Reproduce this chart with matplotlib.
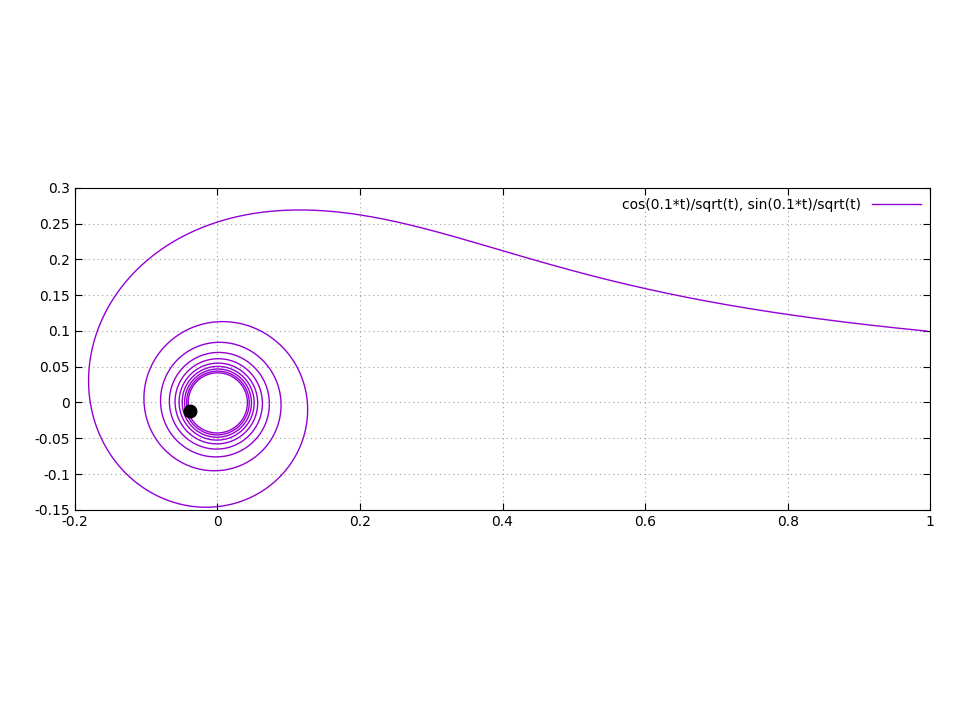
import numpy as np
import matplotlib.pyplot as plt

# parametric curve exactly as given in the chart's legend
T_START = 1.0
T_END = 600.0
N_SAMPLES = 20000
X_TICKS = [-0.2, 0, 0.2, 0.4, 0.6, 0.8, 1]
Y_TICKS = [-0.15, -0.1, -0.05, 0, 0.05, 0.1, 0.15, 0.2, 0.25, 0.3]

t = np.linspace(T_START, T_END, N_SAMPLES)
x = np.cos(0.1 * t) / np.sqrt(t)
y = np.sin(0.1 * t) / np.sqrt(t)

fig = plt.figure(figsize=(9.6, 7.2), dpi=100)
ax = fig.add_axes([0.078, 0.292, 0.891, 0.447])
ax.plot(x, y, color='#9400d3', lw=1, label='cos(0.1*t)/sqrt(t), sin(0.1*t)/sqrt(t)')
ax.plot(x[-1], y[-1], 'o', color='black', ms=9)

ax.set_xlim(-0.2, 1)
ax.set_ylim(-0.15, 0.3)
ax.set_xticks(X_TICKS)
ax.set_yticks(Y_TICKS)
ax.set_xticklabels([f'{v:g}' for v in X_TICKS])
ax.set_yticklabels([f'{v:g}' for v in Y_TICKS])
ax.tick_params(direction='in', top=True, right=True, labelsize=10, length=5)
ax.grid(True, color='#a0a0a0', linestyle=(0, (1, 3)), lw=0.8)
for s in ax.spines.values():
    s.set_linewidth(0.8)

leg = ax.legend(loc='upper right', frameon=False, markerfirst=False,
                handlelength=3.5, fontsize=10, borderaxespad=0.3)

fig.savefig('out.png')
